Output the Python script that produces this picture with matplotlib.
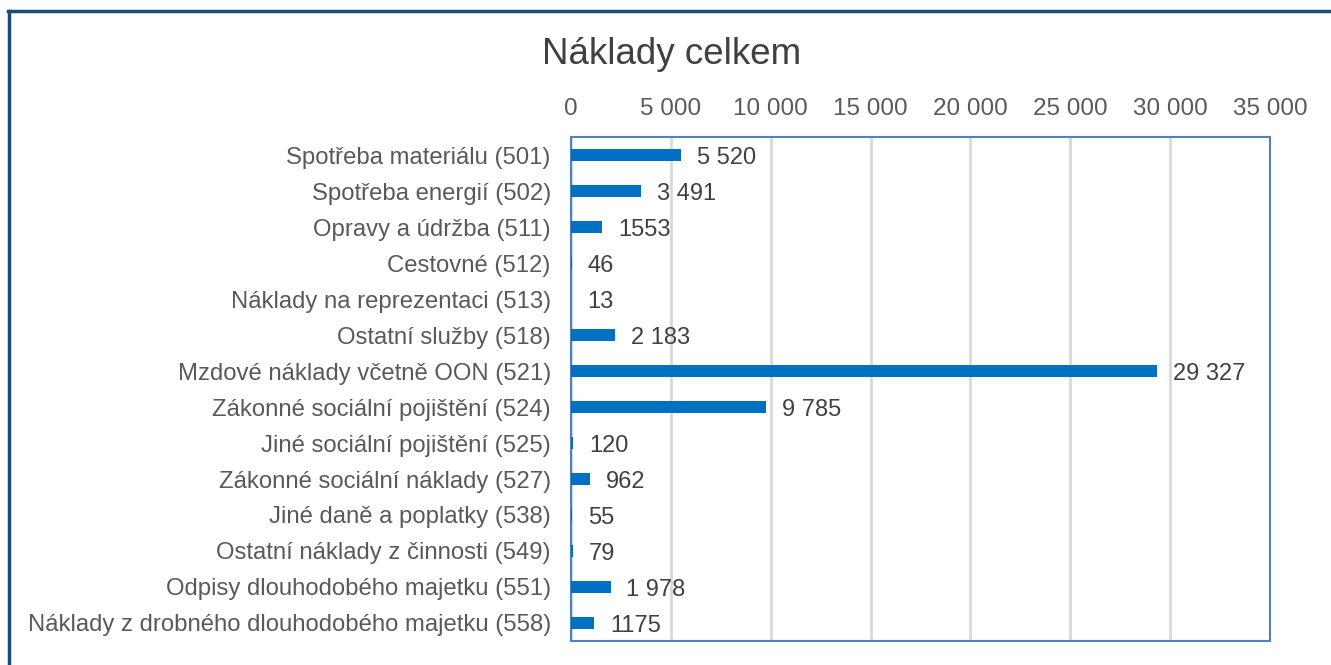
import matplotlib.pyplot as plt
from matplotlib.lines import Line2D

plt.rcParams["font.family"] = ["Liberation Sans", "DejaVu Sans"]

# Kategorie nákladů a hodnoty (tis. Kč)
categories = [
    "Spotřeba materiálu (501)",
    "Spotřeba energií (502)",
    "Opravy a údržba (511)",
    "Cestovné (512)",
    "Náklady na reprezentaci (513)",
    "Ostatní služby (518)",
    "Mzdové náklady včetně OON (521)",
    "Zákonné sociální pojištění (524)",
    "Jiné sociální pojištění (525)",
    "Zákonné sociální náklady (527)",
    "Jiné daně a poplatky (538)",
    "Ostatní náklady z činnosti (549)",
    "Odpisy dlouhodobého majetku (551)",
    "Náklady z drobného dlouhodobého majetku (558)",
]
values = [5520, 3491, 1553, 46, 13, 2183, 29327, 9785, 120, 962, 55, 79, 1978, 1175]
value_labels = ["5 520", "3 491", "1553", "46", "13", "2 183", "29 327", "9 785",
                "120", "962", "55", "79", "1 978", "1175"]
xticks = [0, 5000, 10000, 15000, 20000, 25000, 30000, 35000]
xtick_labels = ["0", "5 000", "10 000", "15 000", "20 000", "25 000", "30 000", "35 000"]

fig = plt.figure(figsize=(13.31, 6.65), dpi=100)
ax = fig.add_axes([571 / 1331, 1 - 641 / 665, 699 / 1331, 504 / 665])

y = range(len(categories))
ax.barh(y, values, height=0.33, color="#0070C0", zorder=3)
ax.set_ylim(len(categories) - 0.5, -0.5)
ax.set_xlim(0, 35000)

for i, (v, lab) in enumerate(zip(values, value_labels)):
    ax.annotate(lab, (v, i), xytext=(11.5, 0), textcoords="offset points",
                va="center_baseline", ha="left", fontsize=17, color="#404040")

ax.set_yticks(list(y))
ax.set_yticklabels(categories, fontsize=17.2, color="#595959")
ax.xaxis.tick_top()
ax.set_xticks(xticks)
ax.set_xticklabels(xtick_labels, fontsize=17.5, color="#595959")
ax.tick_params(length=0)
ax.tick_params(axis="x", pad=12)
ax.tick_params(axis="y", pad=14.5)
ax.grid(axis="x", color="#D9D9D9", linewidth=2, zorder=0)
for s in ax.spines.values():
    s.set_color("#4F81BD")
    s.set_linewidth(1.5)

fig.text(672 / 1331, 1 - 55 / 665, "Náklady celkem", ha="center", va="center",
         fontsize=26.5, color="#404040")

# Rámeček grafu
fig.add_artist(Line2D([9 / 1331, 9 / 1331], [0, 1 - 11 / 665], color="#1F497D",
                      linewidth=2.5, transform=fig.transFigure))
fig.add_artist(Line2D([8 / 1331, 1], [1 - 11 / 665, 1 - 11 / 665], color="#1F497D",
                      linewidth=2.5, transform=fig.transFigure))

fig.savefig("out.png", dpi=100)
